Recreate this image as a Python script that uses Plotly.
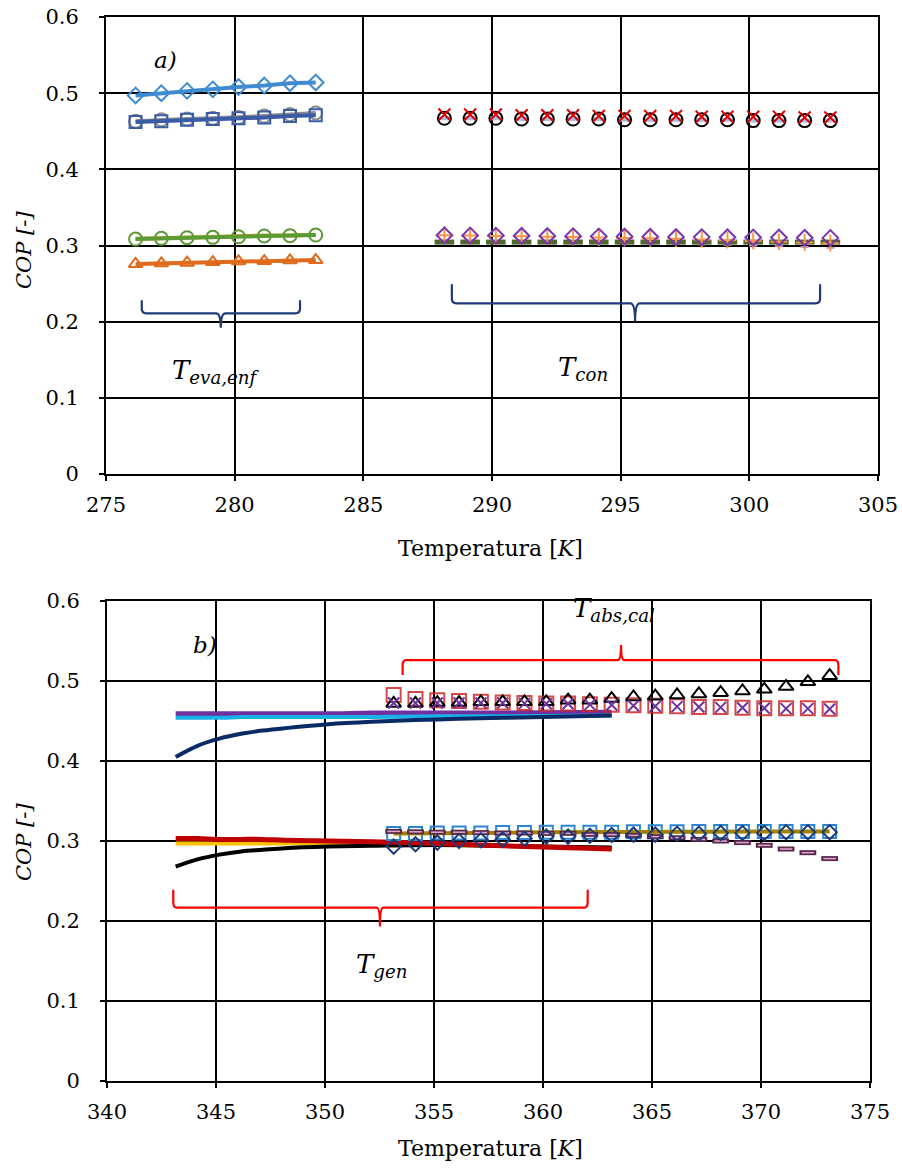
import plotly.graph_objects as go

# ---------------- Panel a): COP vs evaporator / condenser temperature ----------------
t_eva = [276.15, 277.15, 278.15, 279.15, 280.15, 281.15, 282.15, 283.15]
cop_eva_diamond = [0.497, 0.500, 0.503, 0.505, 0.508, 0.510, 0.513, 0.514]
cop_eva_gray = [0.463, 0.465, 0.466, 0.467, 0.468, 0.470, 0.472, 0.474]
cop_eva_square = [0.462, 0.463, 0.465, 0.466, 0.467, 0.468, 0.470, 0.471]
cop_eva_gold = [0.309, 0.310, 0.311, 0.311, 0.312, 0.313, 0.313, 0.314]
cop_eva_circle = [0.3085, 0.3094, 0.3102, 0.3107, 0.3115, 0.3125, 0.3129, 0.3138]
cop_eva_triangle = [0.2757, 0.2766, 0.2774, 0.2783, 0.2792, 0.2796, 0.2805, 0.2809]

t_con = [288.15, 289.15, 290.15, 291.15, 292.15, 293.15, 294.15, 295.15,
         296.15, 297.15, 298.15, 299.15, 300.15, 301.15, 302.15, 303.15]
cop_con_circle = [0.467, 0.467, 0.467, 0.466, 0.466, 0.466, 0.466, 0.465,
                  0.465, 0.465, 0.465, 0.465, 0.464, 0.464, 0.464, 0.464]
cop_con_x = [0.472, 0.472, 0.472, 0.471, 0.471, 0.471, 0.470, 0.470,
             0.470, 0.470, 0.469, 0.469, 0.469, 0.469, 0.468, 0.468]
cop_con_diamond = [0.3135, 0.3132, 0.3130, 0.3128, 0.3125, 0.3122, 0.3120, 0.3118,
                   0.3115, 0.3112, 0.3110, 0.3108, 0.3106, 0.3104, 0.3102, 0.3100]
cop_con_plus = [0.3135, 0.3130, 0.3125, 0.3120, 0.3115, 0.3110, 0.3105, 0.3100,
                0.3095, 0.3090, 0.3080, 0.3070, 0.3060, 0.3050, 0.3040, 0.3030]
cop_con_dash = [0.3045, 0.3045, 0.3045, 0.3045, 0.3045, 0.3045, 0.3045, 0.3045,
                0.3045, 0.3045, 0.3045, 0.3045, 0.3045, 0.3045, 0.3045, 0.3045]
t_con_pink = [296.15, 297.15, 298.15, 299.15, 300.15, 301.15, 302.15, 303.15]
cop_con_pink = [0.3025, 0.302, 0.3015, 0.301, 0.300, 0.299, 0.298, 0.297]

# ---------------- Panel b): COP vs generator / absorber-heating temperature ----------------
t_gen = [343.15, 344.15, 345.15, 346.15, 347.15, 348.15, 350.15, 352.15, 355.15, 358.15, 363.15]
cop_gen_purple = [0.459, 0.459, 0.459, 0.459, 0.459, 0.459, 0.459, 0.460, 0.460, 0.460, 0.461]
cop_gen_cyan = [0.454, 0.454, 0.454, 0.455, 0.455, 0.455, 0.455, 0.455, 0.456, 0.456, 0.457]
cop_gen_navy = [0.405, 0.419, 0.428, 0.434, 0.438, 0.441, 0.446, 0.449, 0.452, 0.454, 0.457]
cop_gen_yellow = [0.297, 0.297, 0.297, 0.297, 0.297, 0.297, 0.297, 0.296, 0.295, 0.294, 0.291]
cop_gen_black = [0.268, 0.277, 0.283, 0.287, 0.289, 0.291, 0.293, 0.294, 0.295, 0.294, 0.292]
cop_gen_red = [0.303, 0.303, 0.302, 0.302, 0.302, 0.301, 0.300, 0.299, 0.297, 0.294, 0.290]

t_abs = [353.15, 354.15, 355.15, 356.15, 357.15, 358.15, 359.15, 360.15, 361.15, 362.15, 363.15,
         364.15, 365.15, 366.15, 367.15, 368.15, 369.15, 370.15, 371.15, 372.15, 373.15]
cop_abs_triangle = [0.472, 0.472, 0.473, 0.473, 0.474, 0.474, 0.474, 0.474, 0.476, 0.476, 0.478,
                    0.480, 0.481, 0.4825, 0.4838, 0.4854, 0.4875, 0.4896, 0.493, 0.499, 0.5067]
cop_abs_square = [0.4825, 0.4775, 0.476, 0.475, 0.474, 0.473, 0.4725, 0.472, 0.472, 0.471, 0.4704,
                  0.4696, 0.469, 0.4683, 0.4675, 0.4675, 0.4667, 0.466, 0.466, 0.4658, 0.4654]
cop_abs_x = [0.4725, 0.4725, 0.4725, 0.4725, 0.4725, 0.4725, 0.472, 0.4715, 0.4715, 0.4705, 0.470,
             0.469, 0.4685, 0.468, 0.4675, 0.467, 0.4665, 0.466, 0.4655, 0.4655, 0.465]
cop_abs_gold = [0.3095, 0.3095, 0.310, 0.310, 0.310, 0.3105, 0.3105, 0.311, 0.311, 0.311, 0.311,
                0.3115, 0.3115, 0.3115, 0.312, 0.312, 0.312, 0.312, 0.312, 0.312, 0.312]
cop_abs_bluesq = [0.3095, 0.3095, 0.310, 0.310, 0.310, 0.3105, 0.3105, 0.311, 0.311, 0.311, 0.311,
                  0.3115, 0.3115, 0.3115, 0.312, 0.312, 0.312, 0.312, 0.312, 0.312, 0.312]
cop_abs_diamond = [0.293, 0.296, 0.298, 0.300, 0.301, 0.302, 0.303, 0.3055, 0.3055, 0.3065, 0.3075,
                   0.308, 0.308, 0.309, 0.309, 0.310, 0.310, 0.310, 0.311, 0.311, 0.311]
cop_abs_dash = [0.312, 0.3115, 0.311, 0.311, 0.3105, 0.310, 0.310, 0.3095, 0.3096, 0.3083, 0.308,
                0.307, 0.3054, 0.304, 0.302, 0.300, 0.298, 0.2946, 0.290, 0.2854, 0.278]

FONT = "DejaVu Serif"

fig = go.Figure()


def line(x, y, color, width, xa="x", ya="y", shape="linear"):
    fig.add_trace(go.Scatter(x=x, y=y, mode="lines", xaxis=xa, yaxis=ya,
                             line=dict(color=color, width=width, shape=shape),
                             showlegend=False, hoverinfo="skip"))


def marks(x, y, symbol, color, size, lw=2, xa="x", ya="y", opacity=1.0):
    fig.add_trace(go.Scatter(x=x, y=y, mode="markers", xaxis=xa, yaxis=ya, opacity=opacity,
                             marker=dict(symbol=symbol, size=size, color=color,
                                         line=dict(color=color, width=lw)),
                             showlegend=False, hoverinfo="skip"))


# Panel a) evaporator series (lines + open markers)
line(t_eva, cop_eva_diamond, "#3f8bd2", 4)
marks(t_eva, cop_eva_diamond, "diamond-open", "#3f8bd2", 12)
line(t_eva, cop_eva_gray, "#8c8c8c", 4)
marks(t_eva, cop_eva_gray, "circle-open", "#8c8c8c", 13)
line(t_eva, cop_eva_square, "#3a5ca6", 4)
marks(t_eva, cop_eva_square, "square-open", "#3a5ca6", 12)
line(t_eva, cop_eva_gold, "#d4a52a", 4)
line(t_eva, cop_eva_circle, "#5c9a35", 4)
marks(t_eva, cop_eva_circle, "circle-open", "#5c9a35", 13)
line(t_eva, cop_eva_triangle, "#e06a1c", 4)
marks(t_eva, cop_eva_triangle, "triangle-up-open", "#e06a1c", 12)

# Panel a) condenser series (markers only)
marks(t_con, cop_con_circle, "line-ew-open", "#9dc3e6", 10, lw=4)
marks(t_con, cop_con_circle, "circle-open", "#000000", 13)
marks(t_con, cop_con_x, "x-thin-open", "#e00000", 12, lw=2)
marks(t_con_pink, cop_con_pink, "line-ew-open", "#c890c0", 6, lw=2)
marks(t_con, cop_con_dash, "line-ew-open", "#4f6a28", 14, lw=5)
marks(t_con, cop_con_plus, "cross-thin-open", "#f79646", 12, lw=2)
marks(t_con, cop_con_diamond, "diamond-open", "#7a35b0", 12)

# Panel b) generator curves
line(t_gen, cop_gen_purple, "#7030a0", 5, "x2", "y2", "spline")
line(t_gen, cop_gen_cyan, "#1ab0e8", 4, "x2", "y2", "spline")
line(t_gen, cop_gen_navy, "#0a2a66", 4, "x2", "y2", "spline")
line(t_gen, cop_gen_yellow, "#ffc000", 4, "x2", "y2", "spline")
line(t_gen, cop_gen_black, "#000000", 4, "x2", "y2", "spline")
line(t_gen, cop_gen_red, "#c00000", 5, "x2", "y2", "spline")

# Panel b) absorber/heating series
marks(t_abs, cop_abs_square, "square-open", "#d02828", 14, 2, "x2", "y2", 0.85)
marks(t_abs, cop_abs_triangle, "triangle-up-open", "#000000", 13, 2, "x2", "y2")
marks(t_abs, cop_abs_x, "x-thin-open", "#7030a0", 11, 2, "x2", "y2")
marks(t_abs, cop_abs_bluesq, "square-open", "#2a86d0", 13, 2, "x2", "y2")
line(t_abs, cop_abs_gold, "#a08200", 4, "x2", "y2")
marks(t_abs, cop_abs_dash, "line-ew-open", "#5a2848", 12, 5, "x2", "y2")
marks(t_abs, cop_abs_dash, "line-ew-open", "#e0a8d0", 9, 1.5, "x2", "y2")
marks(t_abs, cop_abs_diamond, "diamond-open", "#1f3a78", 11, 2, "x2", "y2")


def brace(x0, x1, xt, y_end, y_bar, y_tip, rx, ry, color, xa, ya):
    """Curly brace: two end arms, a flat bar and a small notch at xt."""
    path = (f"M {x0},{y_end} L {x0},{y_bar + ry} Q {x0},{y_bar} {x0 + rx},{y_bar} "
            f"L {xt - rx},{y_bar} Q {xt},{y_bar} {xt},{y_tip} "
            f"Q {xt},{y_bar} {xt + rx},{y_bar} L {x1 - rx},{y_bar} "
            f"Q {x1},{y_bar} {x1},{y_bar + ry} L {x1},{y_end}")
    fig.add_shape(type="path", path=path, xref=xa, yref=ya,
                  line=dict(color=color, width=2.2))


brace(276.39, 282.54, 279.46, 0.228, 0.211, 0.192, 0.18, 0.006, "#1f3a78", "x", "y")
brace(288.44, 302.75, 295.56, 0.249, 0.224, 0.200, 0.18, 0.006, "#1f3a78", "x", "y")
brace(353.56, 373.55, 363.58, 0.5075, 0.526, 0.545, 0.15, -0.007, "#ff0000", "x2", "y2")
brace(343.04, 362.05, 352.52, 0.239, 0.2166, 0.193, 0.15, 0.007, "#ff0000", "x2", "y2")

notes = [
    ("x", "y", 277.3, 0.5435, "<i>a)</i>", 23),
    ("x", "y", 279.24, 0.134, "<i>T<sub>eva,enf</sub></i>", 26),
    ("x", "y", 293.54, 0.139, "<i>T<sub>con</sub></i>", 26),
    ("x2", "y2", 344.5, 0.545, "<i>b)</i>", 23),
    ("x2", "y2", 363.26, 0.589, "<i>T<sub>abs,cal</sub></i>", 26),
    ("x2", "y2", 352.57, 0.144, "<i>T<sub>gen</sub></i>", 26),
]
for xa, ya, xv, yv, txt, sz in notes:
    fig.add_annotation(x=xv, y=yv, xref=xa, yref=ya, text=txt, showarrow=False,
                       xanchor="center", yanchor="middle",
                       font=dict(family=FONT, size=sz, color="#000000"))

# Axis titles placed in paper coordinates
for yp in (1 - 548 / 1172, 1 - 1148 / 1172):
    fig.add_annotation(x=490 / 902, y=yp, xref="paper", yref="paper", showarrow=False,
                       text="Temperatura [<i>K</i>]", xanchor="center", yanchor="middle",
                       font=dict(family=FONT, size=22, color="#000000"))
for yp in (1 - 250 / 1172, 1 - 842 / 1172):
    fig.add_annotation(x=24 / 902, y=yp, xref="paper", yref="paper", showarrow=False,
                       text="<i>COP [-]</i>", textangle=-90, xanchor="center", yanchor="middle",
                       font=dict(family=FONT, size=21, color="#000000"))

axis_common = dict(showgrid=True, gridcolor="#000000", gridwidth=2,
                   showline=True, linecolor="#000000", linewidth=2, mirror=True,
                   ticks="outside", ticklen=5, tickcolor="#000000", tickwidth=1.5,
                   zeroline=False, automargin=False,
                   tickfont=dict(family=FONT, size=21, color="#000000"))

fig.update_layout(
    width=902, height=1172,
    margin=dict(l=0, r=0, t=0, b=0),
    paper_bgcolor="#ffffff", plot_bgcolor="#ffffff",
    showlegend=False,
    xaxis=dict(domain=[106 / 902, 878 / 902], range=[275, 305], dtick=5, tick0=275,
               anchor="y", ticklabelstandoff=6, **axis_common),
    yaxis=dict(domain=[1 - 474 / 1172, 1 - 17 / 1172], range=[0, 0.6], dtick=0.1,
               anchor="x", ticklabelstandoff=16, **axis_common),
    xaxis2=dict(domain=[107 / 902, 870 / 902], range=[340, 375], dtick=5, tick0=340,
                anchor="y2", ticklabelstandoff=6, **axis_common),
    yaxis2=dict(domain=[1 - 1081 / 1172, 1 - 601 / 1172], range=[0, 0.6], dtick=0.1,
                anchor="x2", ticklabelstandoff=16, **axis_common),
)

fig.write_html("out.html")
